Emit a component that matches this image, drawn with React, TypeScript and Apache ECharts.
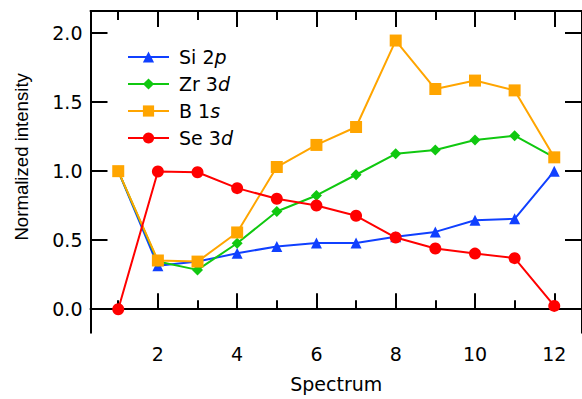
import React, { useEffect, useRef } from "react";
import * as echarts from "echarts";

const spectra = [1, 2, 3, 4, 5, 6, 7, 8, 9, 10, 11, 12];
const si2p = [1.0, 0.315, 0.345, 0.405, 0.455, 0.48, 0.48, 0.525, 0.56, 0.645, 0.655, 1.0];
const zr3d = [1.0, 0.345, 0.285, 0.478, 0.708, 0.824, 0.974, 1.126, 1.153, 1.225, 1.257, 1.1];
const b1s = [1.0, 0.353, 0.345, 0.556, 1.03, 1.19, 1.32, 1.946, 1.595, 1.656, 1.585, 1.1];
const se3d = [0.0, 0.998, 0.992, 0.877, 0.8, 0.751, 0.677, 0.519, 0.44, 0.403, 0.37, 0.024];
const seriesNames = ["Si 2p", "Zr 3d", "B 1s", "Se 3d"];
const xMajorTicks = [2, 4, 6, 8, 10, 12];
const xMinorTicks = [1, 3, 5, 7, 9, 11];
const yTicks = [0, 0.5, 1.0, 1.5, 2.0];

const FONT = "DejaVu Sans";
const FS = 19;
const BLACK = "#000";

export default function App() {
  const ref = useRef<HTMLDivElement>(null);
  useEffect(() => {
    if (!ref.current) return;
    const chart = echarts.init(ref.current, undefined, { renderer: "svg" });
    const mk = (vals: number[]) => spectra.map((x, i) => [x, vals[i]]);
    const lineW = 2;
    const axisBase = {
      type: "value" as const,
      min: 0.3,
      max: 12.7,
      splitLine: { show: false },
    };
    const xAxes = [
      {
        ...axisBase,
        position: "bottom",
        axisLine: { show: true, lineStyle: { color: BLACK, width: 2 } },
        axisTick: { show: true, inside: true, length: 16, customValues: xMajorTicks, lineStyle: { color: BLACK, width: 2 } },
        axisLabel: { show: true, customValues: xMajorTicks, margin: 12, color: BLACK, fontSize: FS, fontFamily: FONT },
        name: "Spectrum",
        nameLocation: "middle",
        nameGap: 42,
        nameTextStyle: { color: BLACK, fontSize: FS, fontFamily: FONT },
      },
      {
        ...axisBase,
        position: "bottom",
        axisLine: { show: false },
        axisTick: { show: true, inside: true, length: 9, customValues: xMinorTicks, lineStyle: { color: BLACK, width: 2 } },
        axisLabel: { show: false },
      },
      {
        ...axisBase,
        position: "top",
        axisLine: { show: true, lineStyle: { color: BLACK, width: 2 } },
        axisTick: { show: true, inside: true, length: 16, customValues: xMajorTicks, lineStyle: { color: BLACK, width: 2 } },
        axisLabel: { show: false },
      },
      {
        ...axisBase,
        position: "top",
        axisLine: { show: false },
        axisTick: { show: true, inside: true, length: 9, customValues: xMinorTicks, lineStyle: { color: BLACK, width: 2 } },
        axisLabel: { show: false },
      },
    ];
    const yBase = { type: "value" as const, min: -0.17, max: 2.16, splitLine: { show: false } };
    const yAxes = [
      {
        ...yBase,
        position: "left",
        axisLine: { show: true, lineStyle: { color: BLACK, width: 2 } },
        axisTick: { show: true, inside: true, length: 17, customValues: yTicks, lineStyle: { color: BLACK, width: 2 } },
        axisLabel: {
          show: true,
          customValues: yTicks,
          margin: 8,
          color: BLACK,
          fontSize: FS,
          fontFamily: FONT,
          formatter: (v: number) => v.toFixed(1),
        },
        name: "Normalized intensity",
        nameLocation: "middle",
        nameGap: 60,
        nameTextStyle: { color: BLACK, fontSize: 18.6, fontFamily: "Liberation Sans", padding: [0, 0, 0, 30] },
      },
      {
        ...yBase,
        position: "right",
        axisLine: { show: true, lineStyle: { color: BLACK, width: 2 } },
        axisTick: { show: true, inside: true, length: 17, customValues: yTicks, lineStyle: { color: BLACK, width: 2 } },
        axisLabel: { show: false },
      },
    ];
    const defs = [
      { name: seriesNames[0], data: si2p, color: "#1040ff", symbol: "triangle", size: 11 },
      { name: seriesNames[1], data: zr3d, color: "#10c810", symbol: "diamond", size: 11 },
      { name: seriesNames[2], data: b1s, color: "#ffa500", symbol: "rect", size: 12 },
      { name: seriesNames[3], data: se3d, color: "#ff0000", symbol: "circle", size: 12 },
    ];
    chart.setOption({
      animation: false,
      grid: { left: 90.5, top: 11, width: 498, height: 321.7, containLabel: false },
      xAxis: xAxes,
      yAxis: yAxes,
      legend: {
        orient: "vertical",
        left: 122,
        top: 42,
        itemWidth: 41,
        itemHeight: 14,
        itemGap: 7,
        data: seriesNames,
        formatter: (name: string) => {
          const parts = name.split(" ");
          const orb = parts[1];
          return parts[0] + " " + orb.slice(0, -1) + "{i|" + orb.slice(-1) + "}";
        },
        textStyle: {
          color: BLACK,
          fontSize: FS,
          fontFamily: FONT,
          lineHeight: 20,
          padding: [0, 0, 0, 5],
          rich: { i: { fontStyle: "italic", fontSize: FS, fontFamily: FONT, color: BLACK, lineHeight: 20 } },
        },
      },
      series: defs.map((d) => ({
        type: "line",
        name: d.name,
        xAxisIndex: 0,
        yAxisIndex: 0,
        data: mk(d.data),
        symbol: d.symbol,
        symbolSize: d.size,
        showAllSymbol: true,
        lineStyle: { color: d.color, width: lineW },
        itemStyle: { color: d.color },
        emphasis: { disabled: true },
      })),
    });
    return () => chart.dispose();
  }, []);
  return (
    <div
      ref={ref}
      style={{ position: "fixed", left: 0, top: 0, width: 582, height: 399, background: "#fff" }}
    />
  );
}
